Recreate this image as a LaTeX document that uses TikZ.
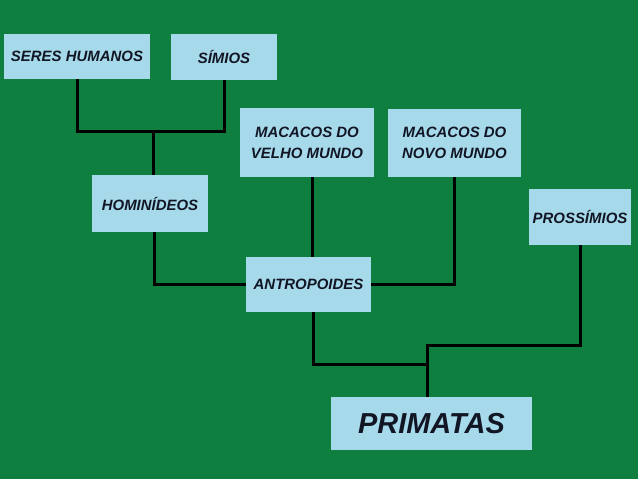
\documentclass[tikz,border=0pt]{standalone}
\usepackage{fontspec}
\setmainfont{Liberation Sans}
\usepackage{tikz}
\usetikzlibrary{positioning,calc}
\definecolor{Field}{HTML}{0E7F3E}
\definecolor{Sky}{HTML}{A6DAEA}
\definecolor{Ink}{HTML}{121524}
\tikzset{
  taxon/.style={fill=Sky,draw=none,align=center,inner sep=0pt,text=Ink,font=\fontsize{15}{21}\selectfont\bfseries\itshape},
  rootbox/.style={taxon,font=\fontsize{29}{34}\selectfont\bfseries\itshape},
  link/.style={draw=black,line width=3bp}
}
\begin{document}
\begin{tikzpicture}[x=1bp,y=-1bp]
  \fill[Field] (0,0) rectangle (638,479);
  % upper row
  \node[taxon,minimum width=146bp,minimum height=45bp] (humanos) at (77,56.5) {SERES HUMANOS};
  \node[taxon,minimum width=106bp,minimum height=46bp] (simios) at (224,57) {SÍMIOS};
  \node[taxon,minimum width=134bp,minimum height=69bp] (velho) at (307,142.5) {MACACOS DO\\VELHO MUNDO};
  \node[taxon,minimum width=133bp,minimum height=68bp] (novo) at (454.5,143) {MACACOS DO\\NOVO MUNDO};
  \node[taxon,minimum width=116bp,minimum height=57bp] (hominideos) at (150,203.5) {HOMINÍDEOS};
  \node[taxon,minimum width=102bp,minimum height=56bp] (prossimios) at (580,217) {PROSSÍMIOS};
  \node[taxon,minimum width=125bp,minimum height=55bp] (antropoides) at (308.5,284.5) {ANTROPOIDES};
  \node[rootbox,minimum width=201bp,minimum height=53bp] (primatas) at (431.5,423.5) {PRIMATAS};
  % branch points
  \coordinate (jHom) at (153,132);
  \coordinate (jPri) at (427,364);
  \coordinate (jPro) at (427,345);
  % tree
  \draw[link] (humanos) |- (jHom) -| (simios);
  \draw[link] (jHom) -- (jHom |- hominideos.north);
  \draw[link] ([xshift=5]hominideos.south) |- (antropoides);
  \draw[link] ([xshift=6]velho.south) -- ([xshift=6]velho.south |- antropoides.north);
  \draw[link] (antropoides) -| (novo);
  \draw[link] ([xshift=5]antropoides.south) |- (jPri);
  \draw[link] (primatas.north -| jPri) -- (jPro) -| (prossimios);
\end{tikzpicture}
\end{document}
